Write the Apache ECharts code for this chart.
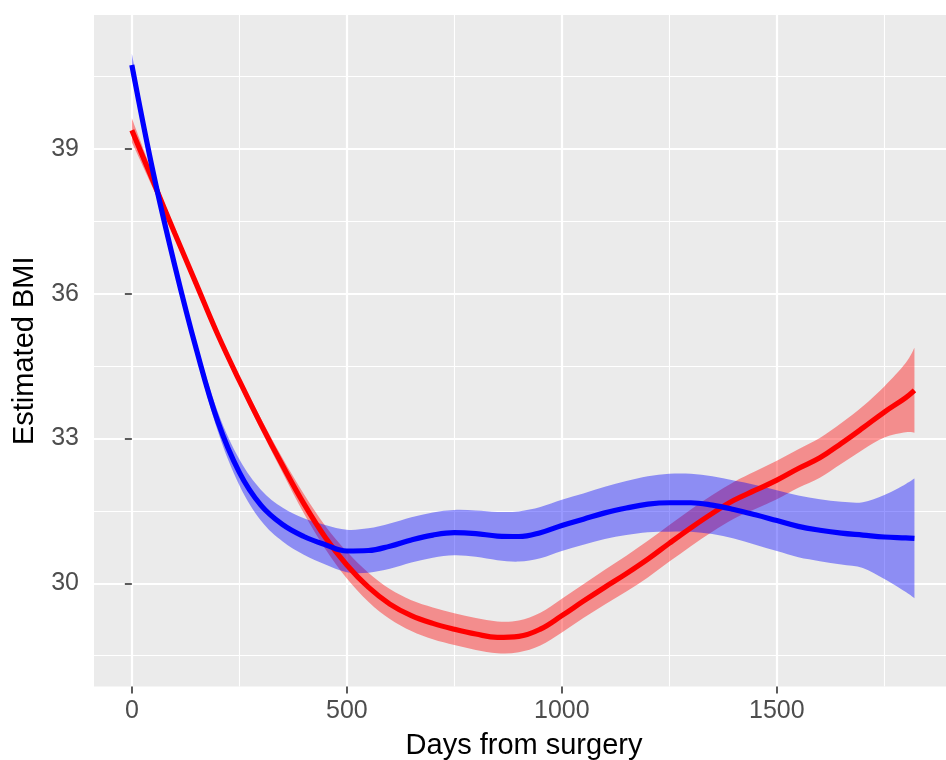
<!DOCTYPE html>
<html>
<head>
<meta charset="utf-8">
<script src="https://cdn.jsdelivr.net/npm/echarts@6/dist/echarts.min.js"></script>
<style>
html,body{margin:0;padding:0;background:#fff;overflow:hidden;width:946px;height:760px;}
#c{width:954px;height:760px;}
</style>
</head>
<body>
<div id="c"></div>
<script>
const days = [0,50,100,150,200,250,300,350,400,450,500,550,600,650,700,750,800,850,900,950,1000,1050,1100,1150,1200,1250,1300,1350,1400,1450,1500,1550,1600,1650,1700,1750,1800,1820];
const redFit = [39.39,38.32,37.25,36.2,35.15,34.2,33.3,32.45,31.65,30.95,30.38,29.92,29.57,29.33,29.17,29.05,28.95,28.88,28.9,29.05,29.33,29.63,29.92,30.2,30.5,30.83,31.15,31.45,31.72,31.93,32.14,32.38,32.6,32.9,33.22,33.55,33.85,34.0];
const redHalf = [0.25,0.15,0.1,0.1,0.1,0.1,0.12,0.15,0.2,0.24,0.28,0.3,0.31,0.32,0.33,0.33,0.33,0.33,0.33,0.34,0.35,0.35,0.36,0.37,0.38,0.38,0.38,0.38,0.38,0.39,0.4,0.4,0.41,0.42,0.45,0.53,0.72,0.88];
const blueFit = [40.74,38.5,36.58,34.85,33.35,32.3,31.62,31.22,30.97,30.8,30.67,30.68,30.77,30.9,31.0,31.05,31.03,30.98,30.97,31.05,31.2,31.33,31.46,31.56,31.64,31.67,31.67,31.62,31.53,31.42,31.3,31.18,31.1,31.04,31.0,30.96,30.94,30.93];
const blueHalf = [0.24,0.14,0.12,0.14,0.2,0.27,0.32,0.35,0.38,0.41,0.44,0.46,0.47,0.47,0.47,0.47,0.48,0.5,0.52,0.53,0.53,0.53,0.54,0.56,0.58,0.6,0.6,0.6,0.6,0.62,0.63,0.64,0.64,0.65,0.68,0.87,1.12,1.24];

const xTicks = [0,500,1000,1500];
const xMinor = [250,750,1250,1750];
const yTicks = [30,33,36,39];
const yMinor = [28.5,31.5,34.5,37.5,40.5];

const xTitle = 'Days from surgery';
const yTitle = 'Estimated BMI';

const FONT = "'Liberation Sans', Arial, sans-serif";
const X_MIN = -88, X_MAX = 1912, Y_MIN = 27.862, Y_MAX = 41.777;
const SMOOTH = 0.4;

function pairs(vals){ return days.map((d,i)=>[d, vals[i]]); }

// Catmull-Rom style smooth path through pixel points
function smoothSeg(pts, moveFirst){
  let s = moveFirst ? 'M' + pts[0][0] + ' ' + pts[0][1] : 'L' + pts[0][0] + ' ' + pts[0][1];
  const k = 1/6;
  for (let i = 0; i < pts.length - 1; i++){
    const p0 = pts[Math.max(i-1,0)], p1 = pts[i], p2 = pts[i+1], p3 = pts[Math.min(i+2, pts.length-1)];
    const c1x = p1[0] + (p2[0]-p0[0])*k, c1y = p1[1] + (p2[1]-p0[1])*k;
    const c2x = p2[0] - (p3[0]-p1[0])*k, c2y = p2[1] - (p3[1]-p1[1])*k;
    s += ' C' + c1x + ' ' + c1y + ' ' + c2x + ' ' + c2y + ' ' + p2[0] + ' ' + p2[1];
  }
  return s;
}

function bandSeries(name, fit, half, color){
  const data = days.map((d,i)=>[d, fit[i]-half[i], fit[i]+half[i]]);
  return {
    name: name+'-band', type:'custom', xAxisIndex:1, yAxisIndex:1,
    data: data, encode:{x:0, y:[1,2]}, clip:true, silent:true,
    renderItem: function(params, api){
      if (params.dataIndex !== 0) return null;
      const up = data.map(r=>api.coord([r[0], r[2]]));
      const lo = data.map(r=>api.coord([r[0], r[1]])).reverse();
      const path = smoothSeg(up, true) + ' ' + smoothSeg(lo, false) + ' Z';
      return {type:'path', shape:{pathData:path}, style:{fill:color, stroke:null}};
    }
  };
}
function lineSeries(name, fit, color){
  return {
    name:name, type:'line', xAxisIndex:1, yAxisIndex:1,
    data: pairs(fit), symbol:'none', smooth:SMOOTH,
    lineStyle:{color:color, width:5.2, cap:'butt'}, silent:true
  };
}

const series = [
  bandSeries('red', redFit, redHalf, 'rgba(255,0,0,0.4)'),
  lineSeries('red', redFit, '#FF0000'),
  bandSeries('blue', blueFit, blueHalf, 'rgba(0,0,255,0.4)'),
  lineSeries('blue', blueFit, '#0000FF')
];

const chart = echarts.init(document.getElementById('c'), null, {renderer:'canvas'});
chart.setOption({
  animation:false,
  backgroundColor:'#FFFFFF',
  grid:{left:94, right:0, top:15, bottom:73.5, show:true, backgroundColor:'#EBEBEB', borderWidth:0,
        containLabel:false, outerBoundsMode:'none'},
  xAxis:[
    {
      type:'value', min:X_MIN, max:X_MAX, position:'bottom',
      axisLine:{show:false}, axisLabel:{show:false},
      axisTick:{show:false, customValues:xMinor},
      splitLine:{show:true, lineStyle:{color:'#FFFFFF', width:1.1}}
    },
    {
      type:'value', min:X_MIN, max:X_MAX, position:'bottom',
      name:xTitle, nameLocation:'middle', nameGap:45,
      nameTextStyle:{color:'#000000', fontSize:29, fontFamily:FONT},
      axisLine:{show:false},
      axisTick:{show:true, customValues:xTicks, length:7, lineStyle:{color:'#333333', width:1.6}},
      axisLabel:{show:true, customValues:xTicks, margin:12, color:'#4D4D4D', fontSize:25, fontFamily:FONT,
        formatter: v => String(v)},
      splitLine:{show:true, lineStyle:{color:'#FFFFFF', width:2.2}}
    }
  ],
  yAxis:[
    {
      type:'value', min:Y_MIN, max:Y_MAX, position:'left',
      axisLine:{show:false}, axisLabel:{show:false},
      axisTick:{show:false, customValues:yMinor},
      splitLine:{show:true, lineStyle:{color:'#FFFFFF', width:1.1}}
    },
    {
      type:'value', min:Y_MIN, max:Y_MAX, position:'left',
      name:yTitle, nameLocation:'middle', nameGap:55, nameRotate:90,
      nameTextStyle:{color:'#000000', fontSize:29, fontFamily:FONT},
      axisLine:{show:false},
      axisTick:{show:true, customValues:yTicks, length:7, lineStyle:{color:'#333333', width:1.6}},
      axisLabel:{show:true, customValues:yTicks, margin:15, color:'#4D4D4D', fontSize:25, fontFamily:FONT,
        formatter: v => String(v)},
      splitLine:{show:true, lineStyle:{color:'#FFFFFF', width:2.2}}
    }
  ],
  series:series
});
</script>
</body>
</html>
